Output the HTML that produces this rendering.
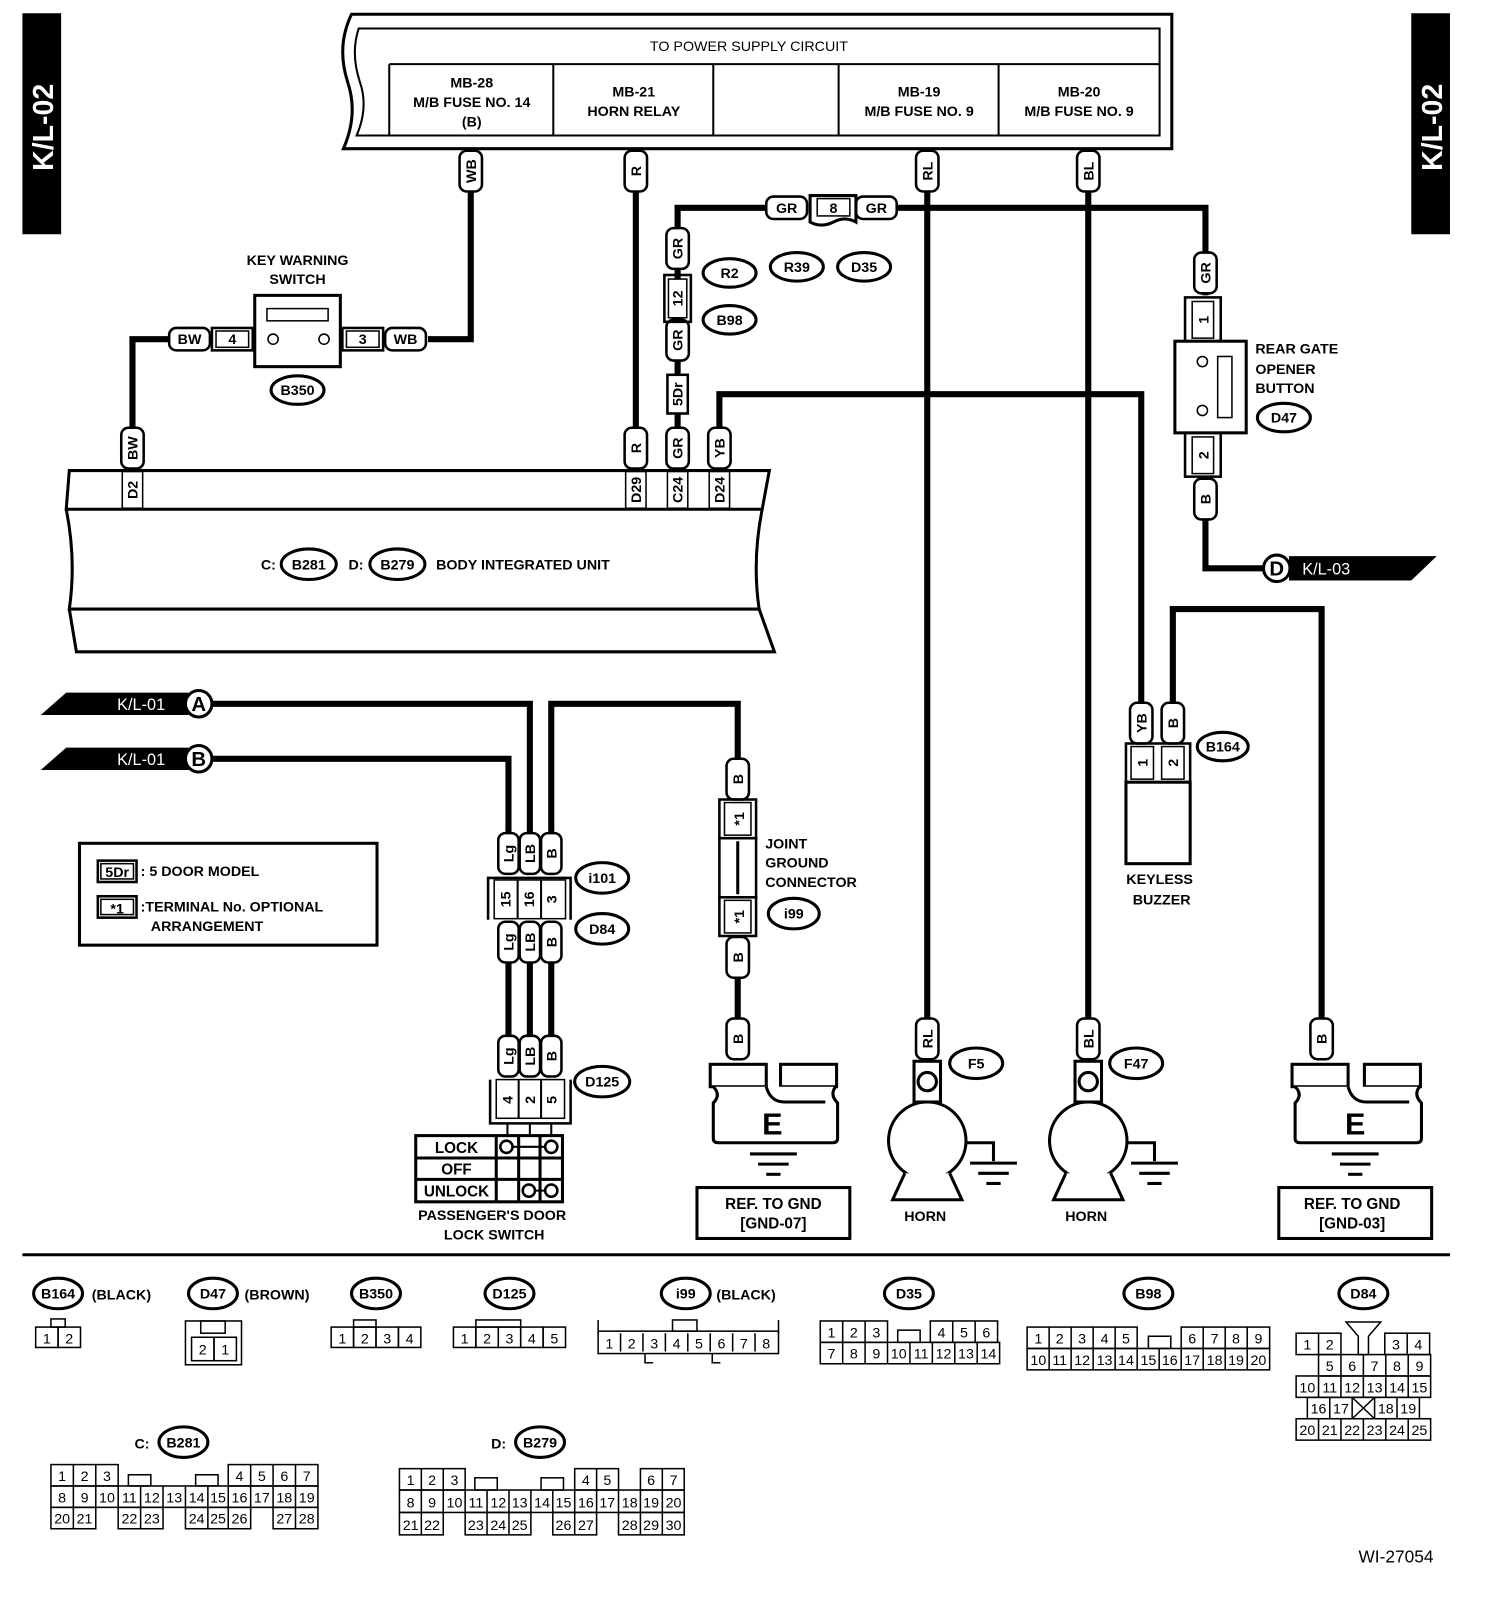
<!DOCTYPE html>
<html><head><meta charset="utf-8"><style>
html,body{margin:0;padding:0;background:#fff}
svg{display:block}
text{font-family:"Liberation Sans",Arial,sans-serif;fill:#000}
.b{font-weight:bold;font-size:14px}
.l{font-weight:bold;font-size:15px}
.n{font-size:14px}
.w{fill:none;stroke:#000;stroke-width:6}
.p{fill:#fff;stroke:#000;stroke-width:2.5}
.o{fill:#fff;stroke:#000;stroke-width:3}
.c{fill:#fff;stroke:#000;stroke-width:1.5}
.t{fill:none;stroke:#000;stroke-width:2.5}
</style></head><body>
<svg width="1504" height="1598" viewBox="0 0 1476 1569" preserveAspectRatio="none" xmlns="http://www.w3.org/2000/svg">
<rect width="1476" height="1569" fill="#fff"/>
<!-- side tabs -->
<rect x="22" y="13" width="38" height="217" fill="#000"/>
<text transform="translate(52,125) rotate(-90)" text-anchor="middle" style="font-size:28px;font-weight:bold;fill:#fff">K/L-02</text>
<rect x="1385" y="13" width="38" height="217" fill="#000"/>
<text transform="translate(1415,125) rotate(-90)" text-anchor="middle" style="font-size:28px;font-weight:bold;fill:#fff">K/L-02</text>

<!-- top box -->
<path d="M345,14 L1150,14 L1150,146 L337,146 Q352,112 341,80 Q330,45 345,14 Z" class="o"/>
<path d="M352,28 L1138,28 L1138,133 L350,133 Q362,105 353,80 Q344,52 352,28 Z" fill="none" stroke="#000" stroke-width="2"/>
<line x1="382" y1="63" x2="1138" y2="63" stroke="#000" stroke-width="2"/>
<g stroke="#000" stroke-width="2"><line x1="382" y1="63" x2="382" y2="133"/><line x1="543" y1="63" x2="543" y2="133"/><line x1="700" y1="63" x2="700" y2="133"/><line x1="823" y1="63" x2="823" y2="133"/><line x1="980" y1="63" x2="980" y2="133"/></g>
<g class="b" text-anchor="middle">
<text x="735" y="50" class="n" style="font-weight:normal">TO POWER SUPPLY CIRCUIT</text>
<text x="463" y="86">MB-28</text><text x="463" y="105">M/B FUSE NO. 14</text><text x="463" y="124">(B)</text>
<text x="622" y="95">MB-21</text><text x="622" y="114">HORN RELAY</text>
<text x="902" y="95">MB-19</text><text x="902" y="114">M/B FUSE NO. 9</text>
<text x="1059" y="95">MB-20</text><text x="1059" y="114">M/B FUSE NO. 9</text>
</g>

<!-- wires -->
<path class="w" d="M462,146 V333 H420"/>
<path class="w" d="M168,333 H130 V462"/>
<path class="w" d="M624,146 V462"/>
<path class="w" d="M665,462 V204 H790 M840,204 H1183 V290"/>
<path class="w" d="M706,462 V387 H1120 V690"/>
<path class="w" d="M910,146 V1040"/>
<path class="w" d="M1068,146 V1040"/>
<path class="w" d="M1183,470 V558 H1240"/>
<path class="w" d="M1151,690 V598 H1297 V1040"/>
<path class="w" d="M208,691 H520 V820"/>
<path class="w" d="M208,745 H499 V820"/>
<path class="w" d="M541,820 V691 H724 V745"/>
<path class="w" d="M724,950 V1040"/>
<path class="w" d="M499,945 V1018 M520,945 V1018 M541,945 V1018"/>

<!-- key warning switch -->
<text x="292" y="260" class="b" text-anchor="middle">KEY WARNING</text>
<text x="292" y="279" class="b" text-anchor="middle">SWITCH</text>
<rect x="250" y="290" width="84" height="70" class="o"/>
<rect x="262" y="303" width="60" height="12" class="c" stroke-width="2"/>
<circle cx="268" cy="333" r="5" class="c" stroke-width="2"/><circle cx="318" cy="333" r="5" class="c" stroke-width="2"/>
<rect x="208" y="322" width="40" height="22" class="t"/><rect x="212" y="325" width="32" height="16" class="c"/><text x="228" y="338" class="b" text-anchor="middle">4</text>
<rect x="336" y="322" width="40" height="22" class="t"/><rect x="340" y="325" width="32" height="16" class="c"/><text x="356" y="338" class="b" text-anchor="middle">3</text>
<ellipse cx="292" cy="383" rx="26" ry="14" class="o"/><text x="292" y="388" class="b" text-anchor="middle">B350</text>

<!-- pills -->
<g class="b" text-anchor="middle">
<g transform="translate(186,333)"><rect x="-20" y="-11" width="40" height="22" rx="7" class="p"/><text y="5">BW</text></g>
<g transform="translate(398,333)"><rect x="-20" y="-11" width="40" height="22" rx="7" class="p"/><text y="5">WB</text></g>
<g transform="translate(772,204)"><rect x="-20" y="-11" width="40" height="22" rx="7" class="p"/><text y="5">GR</text></g>
<g transform="translate(860,204)"><rect x="-20" y="-11" width="40" height="22" rx="7" class="p"/><text y="5">GR</text></g>
<g transform="translate(462,168)"><rect x="-11" y="-20" width="22" height="40" rx="7" class="p"/><text transform="rotate(-90)" y="5">WB</text></g>
<g transform="translate(624,168)"><rect x="-11" y="-20" width="22" height="40" rx="7" class="p"/><text transform="rotate(-90)" y="5">R</text></g>
<g transform="translate(910,168)"><rect x="-11" y="-20" width="22" height="40" rx="7" class="p"/><text transform="rotate(-90)" y="5">RL</text></g>
<g transform="translate(1068,168)"><rect x="-11" y="-20" width="22" height="40" rx="7" class="p"/><text transform="rotate(-90)" y="5">BL</text></g>
<g transform="translate(130,440)"><rect x="-11" y="-20" width="22" height="40" rx="7" class="p"/><text transform="rotate(-90)" y="5">BW</text></g>
<g transform="translate(624,440)"><rect x="-11" y="-20" width="22" height="40" rx="7" class="p"/><text transform="rotate(-90)" y="5">R</text></g>
<g transform="translate(665,244)"><rect x="-11" y="-20" width="22" height="40" rx="7" class="p"/><text transform="rotate(-90)" y="5">GR</text></g>
<g transform="translate(665,334)"><rect x="-11" y="-20" width="22" height="40" rx="7" class="p"/><text transform="rotate(-90)" y="5">GR</text></g>
<g transform="translate(665,440)"><rect x="-11" y="-20" width="22" height="40" rx="7" class="p"/><text transform="rotate(-90)" y="5">GR</text></g>
<g transform="translate(706,440)"><rect x="-11" y="-20" width="22" height="40" rx="7" class="p"/><text transform="rotate(-90)" y="5">YB</text></g>
<g transform="translate(1183,268)"><rect x="-11" y="-20" width="22" height="40" rx="7" class="p"/><text transform="rotate(-90)" y="5">GR</text></g>
<g transform="translate(1183,490)"><rect x="-11" y="-20" width="22" height="40" rx="7" class="p"/><text transform="rotate(-90)" y="5">B</text></g>
<g transform="translate(1120,710)"><rect x="-11" y="-20" width="22" height="40" rx="7" class="p"/><text transform="rotate(-90)" y="5">YB</text></g>
<g transform="translate(1151,710)"><rect x="-11" y="-20" width="22" height="40" rx="7" class="p"/><text transform="rotate(-90)" y="5">B</text></g>
<g transform="translate(724,765)"><rect x="-11" y="-20" width="22" height="40" rx="7" class="p"/><text transform="rotate(-90)" y="5">B</text></g>
<g transform="translate(724,940)"><rect x="-11" y="-20" width="22" height="40" rx="7" class="p"/><text transform="rotate(-90)" y="5">B</text></g>
<g transform="translate(724,1020)"><rect x="-11" y="-20" width="22" height="40" rx="7" class="p"/><text transform="rotate(-90)" y="5">B</text></g>
<g transform="translate(910,1020)"><rect x="-11" y="-20" width="22" height="40" rx="7" class="p"/><text transform="rotate(-90)" y="5">RL</text></g>
<g transform="translate(1068,1020)"><rect x="-11" y="-20" width="22" height="40" rx="7" class="p"/><text transform="rotate(-90)" y="5">BL</text></g>
<g transform="translate(1297,1020)"><rect x="-11" y="-20" width="22" height="40" rx="7" class="p"/><text transform="rotate(-90)" y="5">B</text></g>
<g transform="translate(499,838)"><rect x="-10" y="-20" width="20" height="40" rx="7" class="p"/><text transform="rotate(-90)" y="5">Lg</text></g>
<g transform="translate(520,838)"><rect x="-10" y="-20" width="20" height="40" rx="7" class="p"/><text transform="rotate(-90)" y="5">LB</text></g>
<g transform="translate(541,838)"><rect x="-10" y="-20" width="20" height="40" rx="7" class="p"/><text transform="rotate(-90)" y="5">B</text></g>
<g transform="translate(499,925)"><rect x="-10" y="-20" width="20" height="40" rx="7" class="p"/><text transform="rotate(-90)" y="5">Lg</text></g>
<g transform="translate(520,925)"><rect x="-10" y="-20" width="20" height="40" rx="7" class="p"/><text transform="rotate(-90)" y="5">LB</text></g>
<g transform="translate(541,925)"><rect x="-10" y="-20" width="20" height="40" rx="7" class="p"/><text transform="rotate(-90)" y="5">B</text></g>
<g transform="translate(499,1037)"><rect x="-10" y="-20" width="20" height="40" rx="7" class="p"/><text transform="rotate(-90)" y="5">Lg</text></g>
<g transform="translate(520,1037)"><rect x="-10" y="-20" width="20" height="40" rx="7" class="p"/><text transform="rotate(-90)" y="5">LB</text></g>
<g transform="translate(541,1037)"><rect x="-10" y="-20" width="20" height="40" rx="7" class="p"/><text transform="rotate(-90)" y="5">B</text></g>
</g>

<!-- connector 8 -->
<path d="M795,192 H840 V218 Q829,212 818,218 Q806,224 795,218 Z" class="o" stroke-width="2.5"/>
<rect x="802" y="195" width="32" height="17" class="c"/><text x="818" y="209" class="b" text-anchor="middle">8</text>
<!-- connector 12 and 5Dr -->
<rect x="652" y="270" width="26" height="46" class="t"/><rect x="656" y="274" width="18" height="38" class="c"/>
<text transform="translate(670,293) rotate(-90)" class="b" text-anchor="middle">12</text>
<rect x="655" y="368" width="20" height="38" class="p" stroke-width="2"/>
<text transform="translate(670,387) rotate(-90)" class="b" text-anchor="middle">5Dr</text>
<g class="b" text-anchor="middle">
<ellipse cx="716" cy="268" rx="26" ry="14" class="o"/><text x="716" y="273">R2</text>
<ellipse cx="782" cy="262" rx="26" ry="14" class="o"/><text x="782" y="267">R39</text>
<ellipse cx="848" cy="262" rx="26" ry="14" class="o"/><text x="848" y="267">D35</text>
<ellipse cx="716" cy="314" rx="26" ry="14" class="o"/><text x="716" y="319">B98</text>
</g>

<!-- body integrated unit -->
<g stroke="#000" stroke-width="3" fill="none">
<path d="M68,462 H755 L748,500 H65 Z" fill="#fff"/>
<path d="M65,500 Q75,550 68,598 H745 Q738,550 748,500"/>
<path d="M68,598 L75,640 H760 L745,598"/>
</g>
<g class="b" text-anchor="middle">
<rect x="120" y="463" width="20" height="36" class="c" stroke-width="2"/><text transform="translate(135,481) rotate(-90)">D2</text>
<rect x="614" y="463" width="20" height="36" class="c" stroke-width="2"/><text transform="translate(629,481) rotate(-90)">D29</text>
<rect x="655" y="463" width="20" height="36" class="c" stroke-width="2"/><text transform="translate(670,481) rotate(-90)">C24</text>
<rect x="696" y="463" width="20" height="36" class="c" stroke-width="2"/><text transform="translate(711,481) rotate(-90)">D24</text>
</g>
<text x="256" y="559" class="b">C:</text>
<ellipse cx="303" cy="554" rx="27" ry="15" class="o"/><text x="303" y="559" class="b" text-anchor="middle">B281</text>
<text x="342" y="559" class="b">D:</text>
<ellipse cx="390" cy="554" rx="27" ry="15" class="o"/><text x="390" y="559" class="b" text-anchor="middle">B279</text>
<text x="428" y="559" class="b">BODY INTEGRATED UNIT</text>

<!-- rear gate opener -->
<rect x="1163" y="292" width="35" height="43" class="t"/><rect x="1170" y="296" width="21" height="36" class="c"/>
<text transform="translate(1186,314) rotate(-90)" class="b" text-anchor="middle">1</text>
<rect x="1153" y="335" width="70" height="90" class="o"/>
<rect x="1195" y="350" width="14" height="60" class="c" stroke-width="2"/>
<circle cx="1180" cy="355" r="5" class="c" stroke-width="2"/><circle cx="1180" cy="403" r="5" class="c" stroke-width="2"/>
<rect x="1163" y="425" width="35" height="43" class="t"/><rect x="1170" y="429" width="21" height="36" class="c"/>
<text transform="translate(1186,447) rotate(-90)" class="b" text-anchor="middle">2</text>
<text x="1232" y="347" class="b">REAR GATE</text><text x="1232" y="367" class="b">OPENER</text><text x="1232" y="386" class="b">BUTTON</text>
<ellipse cx="1260" cy="410" rx="26" ry="14" class="o"/><text x="1260" y="415" class="b" text-anchor="middle">D47</text>
<path d="M1265,546 H1410 L1385,570 H1265 Z" fill="#000"/>
<circle cx="1253" cy="558" r="13" class="o"/><text x="1253" y="565" text-anchor="middle" style="font-size:20px;font-weight:bold">D</text>
<text x="1278" y="564" style="font-size:16px;fill:#fff">K/L-03</text>

<!-- keyless buzzer -->
<rect x="1105" y="730" width="63" height="38" class="t"/>
<rect x="1110" y="733" width="22" height="32" class="c"/><rect x="1140" y="733" width="22" height="32" class="c"/>
<text transform="translate(1126,749) rotate(-90)" class="b" text-anchor="middle">1</text>
<text transform="translate(1156,749) rotate(-90)" class="b" text-anchor="middle">2</text>
<rect x="1105" y="768" width="63" height="80" class="o"/>
<ellipse cx="1200" cy="733" rx="25" ry="14" class="o"/><text x="1200" y="738" class="b" text-anchor="middle">B164</text>
<text x="1138" y="868" class="b" text-anchor="middle">KEYLESS</text><text x="1140" y="888" class="b" text-anchor="middle">BUZZER</text>

<!-- K/L-01 arrows -->
<path d="M40,702 L65,680 H185 V702 Z" fill="#000"/>
<text x="115" y="697" style="font-size:16px;fill:#fff">K/L-01</text>
<circle cx="195" cy="691" r="13" class="o"/><text x="195" y="698" text-anchor="middle" style="font-size:20px;font-weight:bold">A</text>
<path d="M40,756 L65,734 H185 V756 Z" fill="#000"/>
<text x="115" y="751" style="font-size:16px;fill:#fff">K/L-01</text>
<circle cx="195" cy="745" r="13" class="o"/><text x="195" y="752" text-anchor="middle" style="font-size:20px;font-weight:bold">B</text>

<!-- i101 / D84 -->
<path d="M479,903 V862 H560 V903" class="t"/>
<rect x="485" y="864" width="70" height="38" class="c" stroke-width="2"/>
<line x1="508" y1="864" x2="508" y2="902" stroke="#000" stroke-width="2"/><line x1="531" y1="864" x2="531" y2="902" stroke="#000" stroke-width="2"/>
<g class="b" text-anchor="middle">
<text transform="translate(501,883) rotate(-90)">15</text><text transform="translate(524,883) rotate(-90)">16</text><text transform="translate(546,883) rotate(-90)">3</text>
<ellipse cx="591" cy="862" rx="26" ry="15" class="o"/><text x="591" y="867">i101</text>
<ellipse cx="591" cy="912" rx="26" ry="15" class="o"/><text x="591" y="917">D84</text>
<ellipse cx="591" cy="1062" rx="27" ry="15" class="o"/><text x="591" y="1067">D125</text>
</g>
<!-- D125 -->
<path d="M481,1060 V1103 H560 V1060" class="t"/>
<rect x="487" y="1060" width="67" height="38" class="c" stroke-width="2"/>
<line x1="509" y1="1060" x2="509" y2="1098" stroke="#000" stroke-width="2"/><line x1="531" y1="1060" x2="531" y2="1098" stroke="#000" stroke-width="2"/>
<g class="b" text-anchor="middle"><text transform="translate(503,1080) rotate(-90)">4</text><text transform="translate(525,1080) rotate(-90)">2</text><text transform="translate(546,1080) rotate(-90)">5</text></g>
<g stroke="#000" stroke-width="2"><line x1="498" y1="1103" x2="498" y2="1115"/><line x1="520" y1="1103" x2="520" y2="1115"/><line x1="541" y1="1103" x2="541" y2="1115"/></g>
<!-- switch -->
<g stroke="#000" stroke-width="3" fill="none">
<rect x="408" y="1115" width="144" height="65"/>
<line x1="408" y1="1137" x2="552" y2="1137"/><line x1="408" y1="1158" x2="552" y2="1158"/>
<line x1="487" y1="1115" x2="487" y2="1180"/><line x1="509" y1="1115" x2="509" y2="1180"/><line x1="530" y1="1115" x2="530" y2="1180"/>
<line x1="497" y1="1126" x2="541" y2="1126" stroke-width="2"/><line x1="519" y1="1169" x2="541" y2="1169" stroke-width="2"/>
</g>
<g fill="#fff" stroke="#000" stroke-width="2.5"><circle cx="497" cy="1126" r="6"/><circle cx="541" cy="1126" r="6"/><circle cx="519" cy="1169" r="6"/><circle cx="541" cy="1169" r="6"/></g>
<g class="l" text-anchor="middle"><text x="448" y="1132">LOCK</text><text x="448" y="1153">OFF</text><text x="448" y="1175">UNLOCK</text></g>
<text x="483" y="1198" class="b" text-anchor="middle">PASSENGER'S DOOR</text>
<text x="485" y="1217" class="b" text-anchor="middle">LOCK SWITCH</text>

<!-- joint ground connector -->
<rect x="706" y="785" width="36" height="38" class="t"/><rect x="711" y="788" width="26" height="32" class="c"/>
<text transform="translate(730,804) rotate(-90)" class="b" text-anchor="middle">*1</text>
<rect x="706" y="823" width="36" height="58" class="t"/><line x1="724" y1="826" x2="724" y2="878" stroke="#000" stroke-width="3"/>
<rect x="706" y="881" width="36" height="38" class="t"/><rect x="711" y="884" width="26" height="32" class="c"/>
<text transform="translate(730,900) rotate(-90)" class="b" text-anchor="middle">*1</text>
<text x="751" y="833" class="b">JOINT</text><text x="751" y="852" class="b">GROUND</text><text x="751" y="871" class="b">CONNECTOR</text>
<ellipse cx="779" cy="897" rx="25" ry="15" class="o"/><text x="779" y="902" class="b" text-anchor="middle">i99</text>

<!-- ground E left -->
<g stroke="#000" stroke-width="3" fill="#fff">
<rect x="697" y="1045" width="55" height="22"/><rect x="766" y="1045" width="55" height="22"/>
<path d="M700,1067 Q708,1075 700,1083 V1118 Q700,1122 705,1122 H817 Q822,1122 822,1118 V1083 Q814,1075 820,1067 M752,1067 Q756,1082 770,1082 H810"/>
</g>
<text x="758" y="1114" text-anchor="middle" style="font-size:30px;font-weight:bold">E</text>
<g stroke="#000" stroke-width="3"><line x1="736" y1="1133" x2="782" y2="1133"/><line x1="744" y1="1143" x2="774" y2="1143"/><line x1="752" y1="1153" x2="766" y2="1153"/></g>
<rect x="684" y="1166" width="150" height="50" fill="none" stroke="#000" stroke-width="3"/>
<text x="759" y="1187" class="l" text-anchor="middle">REF. TO GND</text><text x="759" y="1206" class="l" text-anchor="middle">[GND-07]</text>
<!-- ground E right -->
<g stroke="#000" stroke-width="3" fill="#fff">
<rect x="1268" y="1045" width="55" height="22"/><rect x="1339" y="1045" width="55" height="22"/>
<path d="M1271,1067 Q1279,1075 1271,1083 V1118 Q1271,1122 1276,1122 H1390 Q1395,1122 1395,1118 V1083 Q1387,1075 1393,1067 M1323,1067 Q1327,1082 1341,1082 H1383"/>
</g>
<text x="1330" y="1114" text-anchor="middle" style="font-size:30px;font-weight:bold">E</text>
<g stroke="#000" stroke-width="3"><line x1="1307" y1="1133" x2="1353" y2="1133"/><line x1="1315" y1="1143" x2="1345" y2="1143"/><line x1="1323" y1="1153" x2="1337" y2="1153"/></g>
<rect x="1255" y="1166" width="150" height="50" fill="none" stroke="#000" stroke-width="3"/>
<text x="1327" y="1187" class="l" text-anchor="middle">REF. TO GND</text><text x="1327" y="1206" class="l" text-anchor="middle">[GND-03]</text>

<!-- horns -->
<g stroke="#000" stroke-width="3" fill="#fff">
<rect x="897" y="1042" width="26" height="40"/><circle cx="910" cy="1062" r="9"/>
<circle cx="910" cy="1120" r="38"/>
<path d="M888,1152 L876,1178 H944 L932,1152"/>
<path d="M948,1122 H975 V1140" fill="none"/>
<rect x="1055" y="1042" width="26" height="40"/><circle cx="1068" cy="1062" r="9"/>
<circle cx="1068" cy="1120" r="38"/>
<path d="M1046,1152 L1034,1178 H1102 L1090,1152"/>
<path d="M1106,1122 H1133 V1140" fill="none"/>
</g>
<g stroke="#000" stroke-width="3"><line x1="952" y1="1142" x2="998" y2="1142"/><line x1="960" y1="1152" x2="990" y2="1152"/><line x1="968" y1="1162" x2="982" y2="1162"/>
<line x1="1110" y1="1142" x2="1156" y2="1142"/><line x1="1118" y1="1152" x2="1148" y2="1152"/><line x1="1126" y1="1162" x2="1140" y2="1162"/></g>
<g class="b" text-anchor="middle">
<ellipse cx="958" cy="1044" rx="26" ry="15" class="o"/><text x="958" y="1049">F5</text>
<ellipse cx="1115" cy="1044" rx="26" ry="15" class="o"/><text x="1115" y="1049">F47</text>
<text x="908" y="1199">HORN</text><text x="1066" y="1199">HORN</text>
</g>

<!-- legend -->
<rect x="78" y="828" width="292" height="100" fill="none" stroke="#000" stroke-width="3"/>
<rect x="96" y="845" width="38" height="21" class="t"/><rect x="99" y="848" width="32" height="15" class="c"/>
<text x="115" y="861" class="b" text-anchor="middle">5Dr</text>
<text x="138" y="860" class="b">: 5 DOOR MODEL</text>
<rect x="96" y="880" width="38" height="21" class="t"/><rect x="99" y="883" width="32" height="15" class="c"/>
<text x="115" y="897" class="b" text-anchor="middle">*1</text>
<text x="138" y="895" class="b">:TERMINAL No. OPTIONAL</text>
<text x="148" y="914" class="b">ARRANGEMENT</text>

<!-- separator -->
<line x1="22" y1="1232" x2="1423" y2="1232" stroke="#000" stroke-width="3"/>

<!-- bottom connector ovals -->
<g class="b" text-anchor="middle">
<ellipse cx="57" cy="1270" rx="24" ry="15" class="o"/><text x="57" y="1275">B164</text>
<ellipse cx="209" cy="1270" rx="24" ry="15" class="o"/><text x="209" y="1275">D47</text>
<ellipse cx="369" cy="1270" rx="24" ry="15" class="o"/><text x="369" y="1275">B350</text>
<ellipse cx="500" cy="1270" rx="24" ry="15" class="o"/><text x="500" y="1275">D125</text>
<ellipse cx="673" cy="1270" rx="24" ry="15" class="o"/><text x="673" y="1275">i99</text>
<ellipse cx="892" cy="1270" rx="24" ry="15" class="o"/><text x="892" y="1275">D35</text>
<ellipse cx="1127" cy="1270" rx="24" ry="15" class="o"/><text x="1127" y="1275">B98</text>
<ellipse cx="1338" cy="1270" rx="24" ry="15" class="o"/><text x="1338" y="1275">D84</text>
<ellipse cx="180" cy="1416" rx="24" ry="15" class="o"/><text x="180" y="1421">B281</text>
<ellipse cx="530" cy="1416" rx="24" ry="15" class="o"/><text x="530" y="1421">B279</text>
</g>
<g class="b"><text x="90" y="1276">(BLACK)</text><text x="240" y="1276">(BROWN)</text><text x="703" y="1276">(BLACK)</text>
<text x="132" y="1422">C:</text><text x="482" y="1422">D:</text></g>

<g stroke="#000" stroke-width="1.5" fill="none">
<rect x="50" y="1295" width="14" height="8"/>
<rect x="35" y="1303" width="22" height="20"/><rect x="57" y="1303" width="22" height="20"/>
<rect x="182" y="1297" width="55" height="43"/><rect x="197" y="1297" width="24" height="12"/>
<rect x="188" y="1313" width="22" height="23"/><rect x="210" y="1313" width="22" height="23"/>
<rect x="347" y="1296" width="22" height="7"/>
<rect x="325" y="1303" width="22" height="20"/><rect x="347" y="1303" width="22" height="20"/><rect x="369" y="1303" width="22" height="20"/><rect x="391" y="1303" width="22" height="20"/>
<rect x="467" y="1296" width="44" height="7"/>
<rect x="445" y="1303" width="22" height="20"/><rect x="467" y="1303" width="22" height="20"/><rect x="489" y="1303" width="22" height="20"/><rect x="511" y="1303" width="22" height="20"/><rect x="533" y="1303" width="22" height="20"/>
<path d="M587,1296 V1309 M764,1296 V1309 M633,1329 V1338 H641 M699,1329 V1338 H707"/>
<rect x="660" y="1296" width="24" height="11"/>
<rect x="587" y="1307" width="177" height="22"/>
<path d="M609,1309 V1327 M631,1309 V1327 M653,1309 V1327 M675,1309 V1327 M697,1309 V1327 M719,1309 V1327 M741,1309 V1327"/>
<rect x="881" y="1306" width="22" height="12"/>
<rect x="805" y="1297" width="66" height="21"/><path d="M827,1297 V1318 M849,1297 V1318"/>
<rect x="913" y="1297" width="66" height="21"/><path d="M935,1297 V1318 M957,1297 V1318"/>
<rect x="805" y="1318" width="176" height="21"/><path d="M827,1318 V1339 M849,1318 V1339 M871,1318 V1339 M893,1318 V1339 M915,1318 V1339 M937,1318 V1339 M959,1318 V1339"/>
<rect x="1127" y="1312" width="22" height="12"/>
<rect x="1008" y="1303" width="108" height="21"/><path d="M1029.6,1303 V1324 M1051.2,1303 V1324 M1072.8,1303 V1324 M1094.4,1303 V1324"/>
<rect x="1159.2" y="1303" width="86.8" height="21"/><path d="M1180.8,1303 V1324 M1202.4,1303 V1324 M1224,1303 V1324"/>
<rect x="1008" y="1324" width="238" height="21"/><path d="M1029.6,1324 V1345 M1051.2,1324 V1345 M1072.8,1324 V1345 M1094.4,1324 V1345 M1116,1324 V1345 M1137.6,1324 V1345 M1159.2,1324 V1345 M1180.8,1324 V1345 M1202.4,1324 V1345 M1224,1324 V1345"/>
<rect x="1272" y="1309" width="44" height="21"/><path d="M1294,1309 V1330"/>
<path d="M1321,1298 H1355 L1343,1312 V1330 H1333 V1312 Z"/>
<rect x="1359" y="1309" width="44" height="21"/><path d="M1381,1309 V1330"/>
<rect x="1294" y="1330" width="110" height="21"/><path d="M1316,1330 V1351 M1338,1330 V1351 M1360,1330 V1351 M1382,1330 V1351"/>
<rect x="1272" y="1351" width="132" height="21"/><path d="M1294,1351 V1372 M1316,1351 V1372 M1338,1351 V1372 M1360,1351 V1372 M1382,1351 V1372"/>
<rect x="1283" y="1372" width="110" height="21"/><path d="M1305,1372 V1393 M1327,1372 V1393 M1349,1372 V1393 M1371,1372 V1393 M1327,1372 L1349,1393 M1349,1372 L1327,1393"/>
<rect x="1272" y="1393" width="132" height="21"/><path d="M1294,1393 V1414 M1316,1393 V1414 M1338,1393 V1414 M1360,1393 V1414 M1382,1393 V1414"/>
<rect x="50" y="1438" width="66" height="21"/><path d="M72,1438 V1459 M94,1438 V1459"/>
<rect x="126" y="1448" width="22" height="11"/><rect x="192" y="1448" width="22" height="11"/>
<rect x="224" y="1438" width="88" height="21"/><path d="M246,1438 V1459 M268,1438 V1459 M290,1438 V1459"/>
<rect x="50" y="1459" width="262" height="21"/><path d="M72,1459 V1480 M94,1459 V1480 M116,1459 V1480 M138,1459 V1480 M160,1459 V1480 M182,1459 V1480 M204,1459 V1480 M224,1459 V1480 M246,1459 V1480 M268,1459 V1480 M290,1459 V1480"/>
<rect x="50" y="1480" width="44" height="21"/><path d="M72,1480 V1501"/>
<rect x="116" y="1480" width="44" height="21"/><path d="M138,1480 V1501"/>
<rect x="182" y="1480" width="64" height="21"/><path d="M204,1480 V1501 M224,1480 V1501"/>
<rect x="268" y="1480" width="44" height="21"/><path d="M290,1480 V1501"/>
<rect x="392" y="1442" width="64.5" height="21"/><path d="M413.5,1442 V1463 M435,1442 V1463"/>
<rect x="466" y="1451" width="22" height="12"/><rect x="531" y="1451" width="22" height="12"/>
<rect x="564" y="1442" width="43" height="21"/><path d="M585.5,1442 V1463"/>
<rect x="628.5" y="1442" width="43" height="21"/><path d="M650,1442 V1463"/>
<rect x="392" y="1463" width="279.5" height="22"/><path d="M413.5,1463 V1485 M435,1463 V1485 M456.5,1463 V1485 M478,1463 V1485 M499.5,1463 V1485 M521,1463 V1485 M542.5,1463 V1485 M564,1463 V1485 M585.5,1463 V1485 M607,1463 V1485 M628.5,1463 V1485 M650,1463 V1485"/>
<rect x="392" y="1485" width="43" height="22"/><path d="M413.5,1485 V1507"/>
<rect x="456.5" y="1485" width="64.5" height="22"/><path d="M478,1485 V1507 M499.5,1485 V1507"/>
<rect x="542.5" y="1485" width="43" height="22"/><path d="M564,1485 V1507"/>
<rect x="607" y="1485" width="64.5" height="22"/><path d="M628.5,1485 V1507 M650,1485 V1507"/>
</g>

<g class="n" text-anchor="middle">
<text x="46" y="1319">1</text><text x="68" y="1319">2</text>
<text x="199" y="1330">2</text><text x="221" y="1330">1</text>
<text x="336" y="1319">1</text><text x="358" y="1319">2</text><text x="380" y="1319">3</text><text x="402" y="1319">4</text>
<text x="456" y="1319">1</text><text x="478" y="1319">2</text><text x="500" y="1319">3</text><text x="522" y="1319">4</text><text x="544" y="1319">5</text>
<text x="598" y="1324">1</text><text x="620" y="1324">2</text><text x="642" y="1324">3</text><text x="664" y="1324">4</text><text x="686" y="1324">5</text><text x="708" y="1324">6</text><text x="730" y="1324">7</text><text x="752" y="1324">8</text>
<text x="816" y="1313">1</text><text x="838" y="1313">2</text><text x="860" y="1313">3</text><text x="924" y="1313">4</text><text x="946" y="1313">5</text><text x="968" y="1313">6</text>
<text x="816" y="1334">7</text><text x="838" y="1334">8</text><text x="860" y="1334">9</text><text x="882" y="1334">10</text><text x="904" y="1334">11</text><text x="926" y="1334">12</text><text x="948" y="1334">13</text><text x="970" y="1334">14</text>
<text x="1019" y="1319">1</text><text x="1040" y="1319">2</text><text x="1062" y="1319">3</text><text x="1084" y="1319">4</text><text x="1105" y="1319">5</text>
<text x="1170" y="1319">6</text><text x="1192" y="1319">7</text><text x="1213" y="1319">8</text><text x="1235" y="1319">9</text>
<text x="1019" y="1340">10</text><text x="1040" y="1340">11</text><text x="1062" y="1340">12</text><text x="1084" y="1340">13</text><text x="1105" y="1340">14</text><text x="1127" y="1340">15</text><text x="1148" y="1340">16</text><text x="1170" y="1340">17</text><text x="1192" y="1340">18</text><text x="1213" y="1340">19</text><text x="1235" y="1340">20</text>
<text x="1283" y="1325">1</text><text x="1305" y="1325">2</text><text x="1370" y="1325">3</text><text x="1392" y="1325">4</text>
<text x="1305" y="1346">5</text><text x="1327" y="1346">6</text><text x="1349" y="1346">7</text><text x="1371" y="1346">8</text><text x="1393" y="1346">9</text>
<text x="1283" y="1367">10</text><text x="1305" y="1367">11</text><text x="1327" y="1367">12</text><text x="1349" y="1367">13</text><text x="1371" y="1367">14</text><text x="1393" y="1367">15</text>
<text x="1294" y="1388">16</text><text x="1316" y="1388">17</text><text x="1360" y="1388">18</text><text x="1382" y="1388">19</text>
<text x="1283" y="1409">20</text><text x="1305" y="1409">21</text><text x="1327" y="1409">22</text><text x="1349" y="1409">23</text><text x="1371" y="1409">24</text><text x="1393" y="1409">25</text>
<text x="61" y="1454">1</text><text x="83" y="1454">2</text><text x="105" y="1454">3</text><text x="235" y="1454">4</text><text x="257" y="1454">5</text><text x="279" y="1454">6</text><text x="301" y="1454">7</text>
<text x="61" y="1475">8</text><text x="83" y="1475">9</text><text x="105" y="1475">10</text><text x="127" y="1475">11</text><text x="149" y="1475">12</text><text x="171" y="1475">13</text><text x="193" y="1475">14</text><text x="214" y="1475">15</text><text x="235" y="1475">16</text><text x="257" y="1475">17</text><text x="279" y="1475">18</text><text x="301" y="1475">19</text>
<text x="61" y="1496">20</text><text x="83" y="1496">21</text><text x="127" y="1496">22</text><text x="149" y="1496">23</text><text x="193" y="1496">24</text><text x="214" y="1496">25</text><text x="235" y="1496">26</text><text x="279" y="1496">27</text><text x="301" y="1496">28</text>
<text x="403" y="1458">1</text><text x="424" y="1458">2</text><text x="446" y="1458">3</text><text x="575" y="1458">4</text><text x="596" y="1458">5</text><text x="639" y="1458">6</text><text x="661" y="1458">7</text>
<text x="403" y="1480">8</text><text x="424" y="1480">9</text><text x="446" y="1480">10</text><text x="467" y="1480">11</text><text x="489" y="1480">12</text><text x="510" y="1480">13</text><text x="532" y="1480">14</text><text x="553" y="1480">15</text><text x="575" y="1480">16</text><text x="596" y="1480">17</text><text x="618" y="1480">18</text><text x="639" y="1480">19</text><text x="661" y="1480">20</text>
<text x="403" y="1502">21</text><text x="424" y="1502">22</text><text x="467" y="1502">23</text><text x="489" y="1502">24</text><text x="510" y="1502">25</text><text x="553" y="1502">26</text><text x="575" y="1502">27</text><text x="618" y="1502">28</text><text x="639" y="1502">29</text><text x="661" y="1502">30</text>
</g>

<text x="1370" y="1534" text-anchor="middle" style="font-size:17px">WI-27054</text>
</svg>
</body></html>
